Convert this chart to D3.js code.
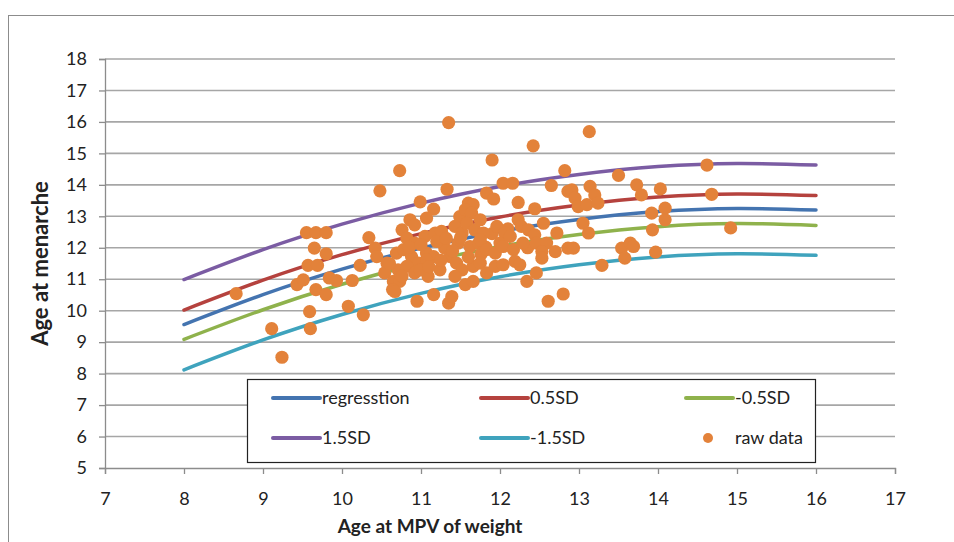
<!DOCTYPE html>
<html>
<head>
<meta charset="utf-8">
<script src="https://cdn.jsdelivr.net/npm/d3@7"></script>
<style>
  body { margin: 0; background: #fff; }
  svg text { font-family: Lato, "Open Sans", sans-serif; fill: #222; }
</style>
</head>
<body>
<div id="main"></div>
<script>
// fitted curves, read at each whole year from 8 to 16
const curveX     = [8, 9, 10, 11, 12, 13, 14, 15, 16];
const regression = [9.56, 10.51, 11.32, 11.99, 12.52, 12.90, 13.15, 13.25, 13.20];
const sdPlus05   = [10.02, 10.97, 11.78, 12.45, 12.98, 13.36, 13.61, 13.71, 13.66];
const sdMinus05  = [9.09, 10.03, 10.84, 11.51, 12.04, 12.42, 12.67, 12.77, 12.71];
const sdPlus15   = [10.99, 11.94, 12.75, 13.42, 13.95, 14.33, 14.58, 14.68, 14.63];
const sdMinus15  = [8.12, 9.07, 9.88, 10.55, 11.08, 11.46, 11.71, 11.81, 11.76];

// raw data: [age at MPV of weight, age at menarche]
const rawData = [
  [8.66,10.54],[9.11,9.43],[9.24,8.52],[9.55,12.48],[9.67,12.48],[9.80,12.48],[9.65,11.99],[9.80,11.81],
  [9.57,11.44],[9.69,11.44],[9.43,10.83],[9.51,10.98],[9.67,10.67],[9.80,10.51],[9.84,11.04],[9.93,10.96],
  [9.59,9.97],[9.60,9.43],[10.13,10.96],[10.23,11.44],[10.08,10.14],[10.27,9.87],[10.34,12.32],[10.48,13.81],
  [10.73,14.45],[10.42,11.99],[10.44,11.72],[10.57,11.51],[10.54,11.20],[10.65,10.93],[10.73,10.93],[10.64,10.67],
  [10.69,11.83],[10.71,11.30],[10.67,10.61],[10.95,10.30],[11.16,10.51],[11.35,10.24],[11.39,10.45],[11.35,15.98],
  [11.33,13.86],[10.99,13.46],[11.16,13.23],[10.86,12.89],[10.92,12.73],[10.76,12.57],[11.07,12.94],[11.49,12.99],
  [11.60,13.42],[11.66,13.37],[11.56,13.21],[11.64,13.10],[10.82,12.31],[10.92,12.15],[11.05,12.36],[11.18,12.47],
  [11.26,12.52],[11.43,12.68],[11.52,12.47],[11.58,12.78],[11.68,12.57],[10.78,11.94],[10.88,11.72],[10.97,11.51],
  [11.07,11.83],[11.16,11.72],[11.30,11.99],[11.37,11.72],[11.47,12.15],[11.62,12.04],[11.73,12.15],[10.82,11.41],
  [10.92,11.20],[11.09,11.09],[11.45,11.51],[11.52,11.30],[11.66,11.41],[11.43,11.09],[11.56,10.83],[11.66,10.93],
  [11.07,11.62],[10.99,11.30],[11.24,11.30],
  [10.85,12.02],[11.00,12.10],[11.20,12.20],[11.32,12.30],[11.40,11.90],[11.50,12.32],[11.60,11.70],[11.76,11.80],
  [11.82,12.02],[11.10,11.40],[11.25,11.60],[10.60,11.50],[10.76,11.10],[12.10,12.60],[12.35,12.00],[11.90,12.45],
  [12.42,15.24],[11.90,14.79],[12.04,14.05],[12.16,14.05],[12.65,13.98],[11.83,13.74],[11.92,13.55],[12.23,13.44],
  [12.44,13.24],[12.86,13.79],[11.75,12.89],[11.79,12.47],[11.75,12.25],[11.96,12.68],[12.06,12.47],[12.00,12.15],
  [12.13,12.36],[12.23,12.89],[12.27,12.68],[12.36,12.57],[12.44,12.41],[12.55,12.78],[12.72,12.47],[11.83,11.94],
  [11.94,11.83],[12.04,12.04],[12.17,11.94],[12.29,12.15],[12.46,12.15],[12.59,12.15],[12.53,11.88],[12.70,11.88],
  [11.75,11.51],[11.83,11.20],[11.94,11.41],[12.04,11.46],[12.19,11.57],[12.25,11.46],[12.53,11.67],[12.34,10.93],
  [12.46,11.20],[12.61,10.30],[12.80,10.53],[12.86,11.99],[12.82,14.45],
  [13.13,15.69],[13.50,14.30],[12.91,13.84],[12.95,13.58],[12.99,13.31],[13.10,13.37],[13.14,13.95],[13.20,13.68],
  [13.24,13.42],[13.73,14.00],[13.79,13.68],[14.03,13.87],[13.05,12.78],[13.12,12.47],[12.93,11.99],[13.29,11.44],
  [13.54,11.99],[13.65,12.15],[13.69,12.04],[13.58,11.67],[13.92,13.10],[14.09,13.26],[14.09,12.89],[13.93,12.57],
  [13.97,11.86],[14.62,14.63],[14.68,13.70],[14.92,12.63]
];

const xTicks = [7, 8, 9, 10, 11, 12, 13, 14, 15, 16, 17];
const yTicks = [5, 6, 7, 8, 9, 10, 11, 12, 13, 14, 15, 16, 17, 18];

const series = [
  { name: "regresstion", values: regression, color: "#4474b0" },
  { name: "0.5SD", values: sdPlus05, color: "#b5423e" },
  { name: "-0.5SD", values: sdMinus05, color: "#8fb24c" },
  { name: "1.5SD", values: sdPlus15, color: "#7b5ca3" },
  { name: "-1.5SD", values: sdMinus15, color: "#3fa3bd" }
];
const dotColor = "#e3823a";

const width = 954, height = 542;
const margin = { left: 105, right: 59, top: 59, bottom: 74 };

const svg = d3.select("#main")
    .append("svg")
    .attr("width", width)
    .attr("height", height);

// chart frame
svg.append("rect")
    .attr("x", 8.5).attr("y", 15.5)
    .attr("width", 1000).attr("height", 600)
    .attr("fill", "none")
    .attr("stroke", "#8c8c8c");

const x = d3.scaleLinear()
    .domain([7, 17])
    .range([margin.left, width - margin.right]);

const y = d3.scaleLinear()
    .domain([5, 18])
    .range([height - margin.bottom, margin.top]);

// gridlines
svg.append("g")
    .selectAll("line")
    .data(yTicks.slice(1))
    .enter().append("line")
    .attr("x1", x(7)).attr("x2", x(17))
    .attr("y1", d => y(d)).attr("y2", d => y(d))
    .attr("stroke", "#a6a6a6")
    .attr("stroke-width", 1.6);

const yAxis = svg.append("g")
    .attr("transform", `translate(${x(7)},0)`)
    .call(d3.axisLeft(y).tickValues(yTicks).tickSize(6).tickPadding(12));

const xAxis = svg.append("g")
    .attr("transform", `translate(0,${y(5)})`)
    .call(d3.axisBottom(x).tickValues(xTicks).tickSize(6).tickPadding(18));

[yAxis, xAxis].forEach(a => {
    a.select(".domain").attr("stroke", "#8c8c8c").attr("stroke-width", 1.3);
    a.selectAll(".tick line").attr("stroke", "#8c8c8c").attr("stroke-width", 1.3);
    a.selectAll(".tick text")
        .style("font-size", "18px")
        .style("font-family", "Lato, sans-serif")
        .attr("fill", "#333");
});

svg.append("text")
    .attr("x", 430)
    .attr("y", 533)
    .attr("text-anchor", "middle")
    .style("font-size", "19px")
    .style("font-weight", "bold")
    .text("Age at MPV of weight");

svg.append("text")
    .attr("transform", `translate(48,${(y(5) + y(18)) / 2}) rotate(-90)`)
    .attr("text-anchor", "middle")
    .style("font-size", "22px")
    .style("font-weight", "bold")
    .text("Age at menarche");

const line = d3.line()
    .x((d, i) => x(curveX[i]))
    .y(d => y(d))
    .curve(d3.curveNatural);

svg.append("g")
    .selectAll("path")
    .data(series)
    .enter().append("path")
    .attr("d", d => line(d.values))
    .attr("fill", "none")
    .attr("stroke", d => d.color)
    .attr("stroke-width", 3.5)
    .attr("stroke-linecap", "round");

svg.append("g")
    .selectAll("circle")
    .data(rawData)
    .enter().append("circle")
    .attr("cx", d => x(d[0]))
    .attr("cy", d => y(d[1]))
    .attr("r", 6.6)
    .attr("fill", dotColor);

// legend
const legend = svg.append("g");
legend.append("rect")
    .attr("x", 247.5).attr("y", 379.5)
    .attr("width", 568).attr("height", 83)
    .attr("fill", "#fff")
    .attr("stroke", "#222")
    .attr("stroke-width", 1.2);

const legendItems = series.map(d => ({ name: d.name, color: d.color, type: "line" }))
    .concat([{ name: "raw data", color: dotColor, type: "dot" }]);
const colX = [273, 481, 686];
const rowY = [398, 438];

legendItems.forEach((d, i) => {
    const lx = colX[i % 3], ly = rowY[Math.floor(i / 3)];
    if (d.type === "line") {
        legend.append("line")
            .attr("x1", lx).attr("x2", lx + 47)
            .attr("y1", ly).attr("y2", ly)
            .attr("stroke", d.color)
            .attr("stroke-width", 4)
            .attr("stroke-linecap", "round");
    } else {
        legend.append("circle")
            .attr("cx", lx + 22).attr("cy", ly)
            .attr("r", 5)
            .attr("fill", d.color);
    }
    legend.append("text")
        .attr("x", lx + 49).attr("y", ly)
        .attr("dy", "0.35em")
        .style("font-size", "18px")
        .text(d.name);
});
</script>
</body>
</html>
